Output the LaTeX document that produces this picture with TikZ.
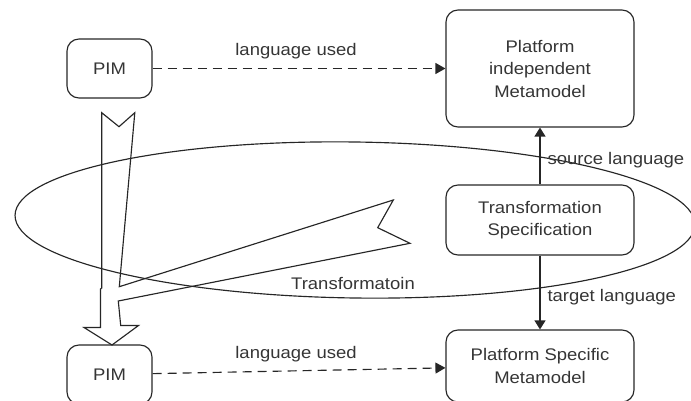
\documentclass[tikz,border=0pt]{standalone}
\usepackage{fontspec}
\newfontfamily\lab[FakeStretch=1.1]{Liberation Sans}
\usetikzlibrary{arrows.meta}
\definecolor{ln}{HTML}{262626}
\definecolor{tx}{HTML}{353535}
\begin{document}
\begin{tikzpicture}[x=1pt,y=-1pt,line width=1.15pt,
  box/.style={draw=ln, rounded corners=12pt, align=center, text=tx,
    font=\lab\fontsize{16.8pt}{22.5pt}\selectfont, inner sep=0pt},
  lbl/.style={text=tx, font=\lab\fontsize{16.8pt}{22.5pt}\selectfont, inner sep=0pt},
  dasharrow/.style={draw=ln, dash pattern=on 9pt off 6pt, -{Triangle[length=10pt,width=11pt]}},
  solidarrow/.style={draw=ln, -{Triangle[length=9pt,width=11pt]}}]
\useasboundingbox (0,0) rectangle (691,401);
% nodes
\node[box, minimum width=85pt, minimum height=59pt] (pim1) at (109.5,68.5) {PIM};
\node[box, minimum width=188pt, minimum height=117pt] (pimm) at (540,68.5) {Platform\\independent\\Metamodel};
\node[box, minimum width=188pt, minimum height=70pt] (ts) at (540,220) {Transformation\\Specification};
\node[box, minimum width=188pt, minimum height=72pt] (psm) at (540,366) {Platform Specific\\Metamodel};
\node[box, minimum width=85pt, minimum height=59pt] (pim2) at (109.5,374.5) {PIM};
% ellipse
\draw[draw=ln, rotate around={-0.8:(355,220)}] (355,220) ellipse [x radius=340, y radius=78];
% block arrow
\draw[draw=ln, line join=miter] (101.7,112.7) -- (119,126.7) -- (134.8,112.7) -- (119.3,286.7)
  -- (393.3,200) -- (377.7,227.7) -- (410,243.3) -- (118.3,301) -- (120.7,325.5)
  -- (138.5,325.5) -- (112,345) -- (84,327.5) -- (100.5,327.5) -- (100.5,289)
  -- (101.7,288) -- cycle;
\node[lbl] (tlab) at (353,283) {Transformatoin};
% connectors
\draw[dasharrow] (pim1) -- (pimm) node[midway, yshift=17pt, xshift=-3pt, lbl] {language used};
\draw[dasharrow] (pim2) -- (psm) node[midway, yshift=17pt, xshift=-3pt, lbl] {language used};
\draw[solidarrow] (ts) -- (pimm) node[pos=0.43, anchor=west, xshift=7pt, lbl] {source language};
\draw[solidarrow] (ts) -- (psm) node[pos=0.56, anchor=west, xshift=7pt, lbl] {target language};
\end{tikzpicture}
\end{document}
